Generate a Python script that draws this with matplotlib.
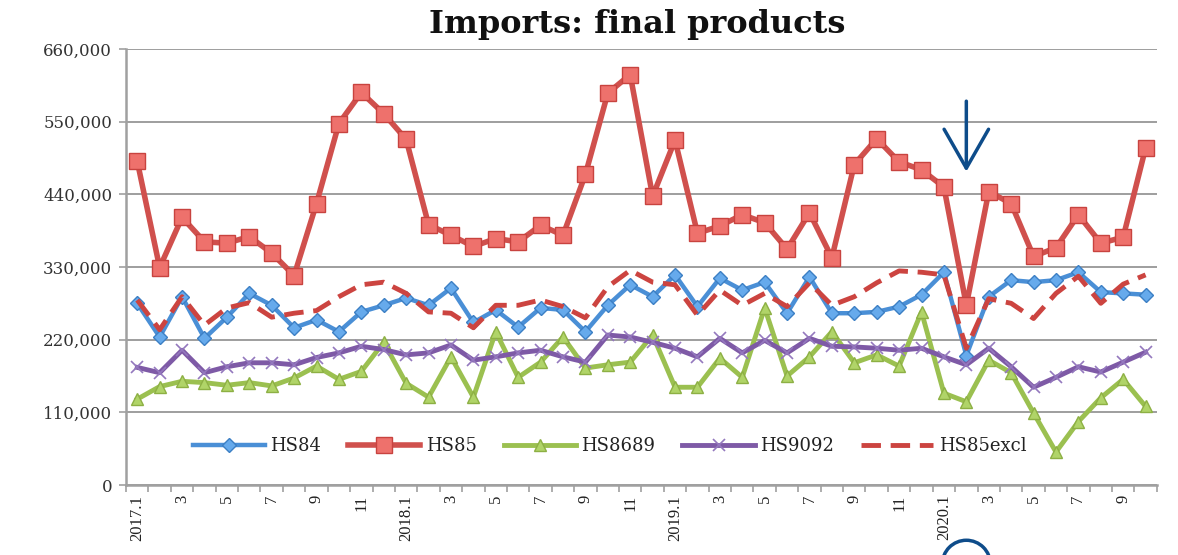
import matplotlib
matplotlib.use("Agg")
import matplotlib.pyplot as plt
import numpy as np
from matplotlib.patches import Ellipse
from matplotlib.ticker import FuncFormatter

# monthly observations, 2017.1 through 2020.10
months = np.arange(46)
tick_labels = ["2017.1", "3", "5", "7", "9", "11",
               "2018.1", "3", "5", "7", "9", "11",
               "2019.1", "3", "5", "7", "9", "11",
               "2020.1", "3", "5", "7", "9"]

hs84 = [275000, 224000, 285000, 222000, 254000, 290000, 272000, 238000, 250000, 232000,
        262000, 272000, 283000, 272000, 298000, 246000, 265000, 239000, 268000, 265000,
        232000, 272000, 303000, 285000, 318000, 270000, 313000, 295000, 307000, 260000,
        315000, 260000, 260000, 262000, 270000, 288000, 322000, 196000, 285000, 310000,
        307000, 310000, 322000, 292000, 290000, 288000]
hs85 = [490000, 329000, 405000, 368000, 366000, 376000, 351000, 317000, 426000, 547000,
        594000, 562000, 523000, 394000, 378000, 361000, 373000, 368000, 393000, 378000,
        470000, 593000, 621000, 437000, 522000, 381000, 392000, 409000, 397000, 357000,
        412000, 344000, 485000, 524000, 489000, 477000, 451000, 272000, 444000, 426000,
        346000, 359000, 409000, 366000, 375000, 510000]
hs8689 = [130000, 149000, 157000, 155000, 151000, 155000, 150000, 162000, 180000, 160000,
          172000, 216000, 154000, 133000, 194000, 133000, 232000, 163000, 186000, 224000,
          177000, 182000, 186000, 227000, 148000, 148000, 192000, 163000, 268000, 165000,
          194000, 232000, 185000, 197000, 180000, 262000, 139000, 126000, 189000, 170000,
          109000, 50000, 96000, 132000, 160000, 119000]
hs9092 = [178000, 170000, 204000, 170000, 179000, 185000, 185000, 182000, 193000, 200000,
          210000, 205000, 197000, 200000, 212000, 189000, 194000, 200000, 204000, 194000,
          186000, 227000, 224000, 216000, 207000, 194000, 222000, 200000, 219000, 200000,
          222000, 210000, 209000, 207000, 204000, 207000, 194000, 182000, 207000, 179000,
          148000, 163000, 179000, 171000, 186000, 201000]
hs85excl = [280000, 235000, 285000, 242000, 268000, 276000, 254000, 260000, 264000, 285000,
            303000, 307000, 290000, 262000, 260000, 238000, 272000, 272000, 280000, 270000,
            253000, 300000, 325000, 307000, 303000, 257000, 295000, 272000, 290000, 270000,
            306000, 272000, 285000, 306000, 324000, 322000, 318000, 207000, 282000, 275000,
            252000, 290000, 316000, 275000, 304000, 318000]

GRID = "#8E8E8E"
AXIS = "#A0A0A0"
INK = "#0E4C8A"

fig = plt.figure(figsize=(11.78, 5.55), dpi=100)
ax = fig.add_axes([0.107, 0.126, 0.875, 0.786])

ax.plot(months, hs84, color="#4A8FD6", lw=3.2, marker="D", ms=7,
        mfc="#66AAEC", mec="#3C7FC4", mew=1, label="HS84", zorder=3)
ax.plot(months, hs85, color="#D0504D", lw=4, marker="s", ms=11,
        mfc="#EE716C", mec="#C8433F", mew=1, label="HS85", zorder=4)
ax.plot(months, hs8689, color="#9BC050", lw=3.5, marker="^", ms=9,
        mfc="#B0D468", mec="#8DB044", mew=1, label="HS8689", zorder=5)
ax.plot(months, hs9092, color="#7E5AA6", lw=3.5, marker="x", ms=9,
        mec="#9478BE", mew=1.2, label="HS9092", zorder=6)
ax.plot(months, hs85excl, color="#CC4440", lw=3.5, dashes=(4, 2),
        label="HS85excl", zorder=7)

ax.set_xlim(-0.5, 45.5)
ax.set_ylim(0, 660000)

ax.set_yticks(np.arange(0, 660001, 110000))
ax.yaxis.set_major_formatter(FuncFormatter(lambda v, _: f"{v:,.0f}"))
ax.yaxis.grid(True, color=GRID, lw=1.2)
ax.set_axisbelow(True)

ax.set_xticks(months[::2])
ax.set_xticklabels(tick_labels, rotation=90, family="Liberation Serif", fontsize=12)
ax.set_xticks(np.arange(-0.5, 46, 1), minor=True)
ax.tick_params(axis="x", which="major", length=0, pad=7, labelcolor="#222222")
ax.tick_params(axis="x", which="minor", length=5, color=AXIS, width=1.2)
ax.tick_params(axis="y", length=5, color=AXIS, width=1.2, pad=5,
               labelsize=12, labelcolor="#333333")
for lbl in ax.get_yticklabels():
    lbl.set_family("DejaVu Serif")

for side in ("top", "right"):
    ax.spines[side].set_visible(False)
for side in ("left", "bottom"):
    ax.spines[side].set_color(AXIS)
    ax.spines[side].set_linewidth(1.8)

ax.legend(loc="center", bbox_to_anchor=(0.469, 0.089), ncol=5, frameon=False,
          numpoints=1, handlelength=4.0, handletextpad=0.3, columnspacing=1.5,
          prop={"family": "DejaVu Serif", "size": 13}, labelcolor="#222222")

fig.text(0.541, 0.955, "Imports: final products", ha="center", va="center",
         fontsize=23, fontweight="bold", family="DejaVu Serif", color="#111111")

# hand-drawn marks pointing at the February 2020 drop
ax.annotate("", xy=(37, 470000), xytext=(37, 585000),
            arrowprops=dict(arrowstyle="->,head_length=1.4,head_width=0.8",
                            color=INK, lw=2.5, mutation_scale=20), zorder=8)
ax.add_patch(Ellipse((37, -120000), width=2.15, height=73000, fill=False,
                     ec=INK, lw=2.5, clip_on=False))

fig.savefig("out.png", dpi=100)
